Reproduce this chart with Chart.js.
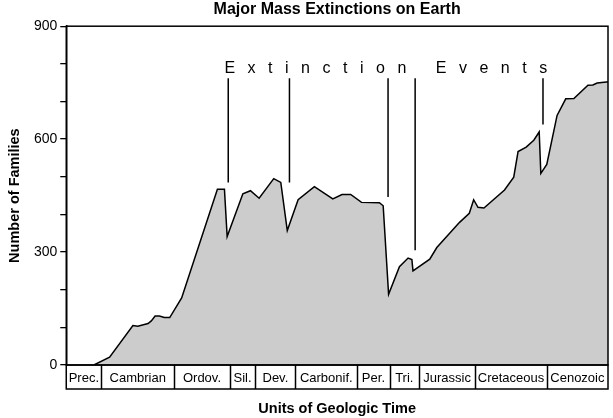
<!DOCTYPE html>
<html lang="en">
<head>
<meta charset="UTF-8">
<title>Major Mass Extinctions on Earth</title>
<script src="https://cdn.jsdelivr.net/npm/chart.js"></script>
<style>
  html, body { margin: 0; padding: 0; background: #fff; }
  #wrap { width: 613px; height: 418px; position: relative; }
</style>
</head>
<body>
<div id="wrap"><canvas id="chart"></canvas></div>

<script>
// geologic periods along the time axis (axis runs 0..100, not linear in years)
const periods = ["Prec.", "Cambrian", "Ordov.", "Sil.", "Dev.", "Carbonif.", "Per.", "Tri.", "Jurassic", "Cretaceous", "Cenozoic"];
const periodEdges = [0, 6.5, 19.9, 30.2, 34.9, 42.3, 53.7, 59.7, 65.1, 75.5, 88.7, 100];

// number of families through time
const timePos = [5.1, 8.0, 12.3, 13.2, 15.1, 15.7, 16.4, 17.2, 18.1, 19.1, 21.3, 27.9, 29.2, 29.7,
  32.6, 34.0, 35.6, 38.3, 39.6, 40.8, 42.8, 45.8, 49.2, 50.9, 52.5, 54.5, 57.8, 58.5, 59.5,
  61.5, 63.1, 63.8, 64.0, 67.1, 68.4, 72.6, 74.4, 75.2, 76.0, 77.1, 80.9, 82.6, 83.4, 84.9,
  86.3, 87.3, 87.6, 88.7, 90.6, 92.2, 93.7, 96.3, 97.2, 98.0, 99.7, 100];
const families = [0, 21, 105, 103, 110, 117, 130, 130, 126, 126, 178, 467, 467, 341,
  455, 463, 443, 495, 485, 357, 439, 474, 441, 453, 453, 432, 431, 423, 188,
  261, 284, 280, 250, 281, 312, 379, 403, 439, 419, 417, 465, 499, 567, 579,
  597, 619, 509, 533, 663, 707, 708, 743, 744, 749, 752, 752];

// the five extinction events: where the pointer sits and how far down it reaches
const eventPos = [29.9, 41.2, 59.4, 64.4, 88.0];
const eventBottom = [485, 485, 446, 305, 639];
const eventTop = 762;
const eventLabel = "Extinction Events";
const eventLabelAt = [29.2, 776];

const yTicks = [0, 300, 600, 900];

const FONT = "'Liberation Sans', Arial, Helvetica, sans-serif";

// frame round the plot and the boxed period strip under it
const framePlugin = {
    id: "frame",
    afterDraw(chart) {
        const { ctx, chartArea: a, scales: { x } } = chart;
        const stripH = 24;
        ctx.save();
        ctx.strokeStyle = "#000";
        ctx.lineWidth = 1.5;
        ctx.strokeRect(a.left, a.top, a.right - a.left, a.bottom - a.top);
        ctx.strokeRect(a.left, a.bottom, a.right - a.left, stripH);
        ctx.beginPath();
        periodEdges.slice(1, -1).forEach(v => {
            const px = Math.round(x.getPixelForValue(v)) + 0.5;
            ctx.moveTo(px, a.bottom);
            ctx.lineTo(px, a.bottom + stripH);
        });
        ctx.stroke();
        ctx.restore();
    }
};

// extinction pointers and the spaced-out label above them
const eventsPlugin = {
    id: "events",
    afterDatasetsDraw(chart) {
        const { ctx, scales: { x, y } } = chart;
        ctx.save();
        ctx.strokeStyle = "#000";
        ctx.lineWidth = 1.5;
        ctx.beginPath();
        eventPos.forEach((v, i) => {
            const px = x.getPixelForValue(v);
            ctx.moveTo(px, y.getPixelForValue(eventTop));
            ctx.lineTo(px, y.getPixelForValue(eventBottom[i]));
        });
        ctx.stroke();

        ctx.fillStyle = "#000";
        ctx.font = "16px " + FONT;
        ctx.textBaseline = "alphabetic";
        let cx = x.getPixelForValue(eventLabelAt[0]);
        const by = y.getPixelForValue(eventLabelAt[1]);
        for (const ch of eventLabel) {
            ctx.fillText(ch, cx, by);
            cx += ctx.measureText(ch).width + 12.5;
        }
        ctx.restore();
    }
};

new Chart(document.getElementById("chart"), {
    type: "line",
    data: {
        datasets: [{
            data: timePos.map((t, i) => ({ x: t, y: families[i] })),
            borderColor: "#000",
            borderWidth: 1.5,
            backgroundColor: "#cccccc",
            fill: "origin",
            pointRadius: 0,
            tension: 0
        }]
    },
    options: {
        responsive: true,
        maintainAspectRatio: false,
        animation: false,
        layout: { padding: { top: 0, right: 5, bottom: 0, left: 0 } },
        plugins: {
            legend: { display: false },
            tooltip: { enabled: false },
            title: {
                display: true,
                text: "Major Mass Extinctions on Earth",
                color: "#000",
                fullSize: false,
                font: { family: FONT, size: 16, weight: "bold" },
                padding: { top: 0, bottom: 7 }
            }
        },
        scales: {
            x: {
                type: "linear",
                min: 0,
                max: 100,
                afterBuildTicks(axis) {
                    axis.ticks = periods.map((p, i) => ({ value: (periodEdges[i] + periodEdges[i + 1]) / 2 }));
                },
                ticks: {
                    autoSkip: false,
                    maxRotation: 0,
                    padding: 6,
                    color: "#000",
                    font: { family: FONT, size: 13 },
                    callback: (v, i) => periods[i]
                },
                grid: { display: false, drawTicks: false },
                border: { display: false },
                title: {
                    display: true,
                    text: "Units of Geologic Time",
                    color: "#000",
                    font: { family: FONT, size: 14.5, weight: "bold" },
                    padding: { top: 8, bottom: 0 }
                }
            },
            y: {
                min: 0,
                max: 900,
                afterBuildTicks(axis) {
                    const t = [];
                    for (let v = 0; v <= 900; v += 100) t.push({ value: v });
                    axis.ticks = t;
                },
                ticks: {
                    padding: 3,
                    color: "#000",
                    font: { family: FONT, size: 14 },
                    callback: v => (yTicks.includes(v) ? v : "")
                },
                grid: {
                    drawOnChartArea: false,
                    drawTicks: true,
                    tickLength: 6,
                    color: "#000",
                    lineWidth: 1.3
                },
                border: { display: true, color: "#000", width: 1.5 },
                title: {
                    display: true,
                    text: "Number of Families",
                    color: "#000",
                    font: { family: FONT, size: 14.5, weight: "bold" },
                    padding: { top: 6, bottom: 7.5 }
                }
            }
        }
    },
    plugins: [framePlugin, eventsPlugin]
});
</script>
</body>
</html>
